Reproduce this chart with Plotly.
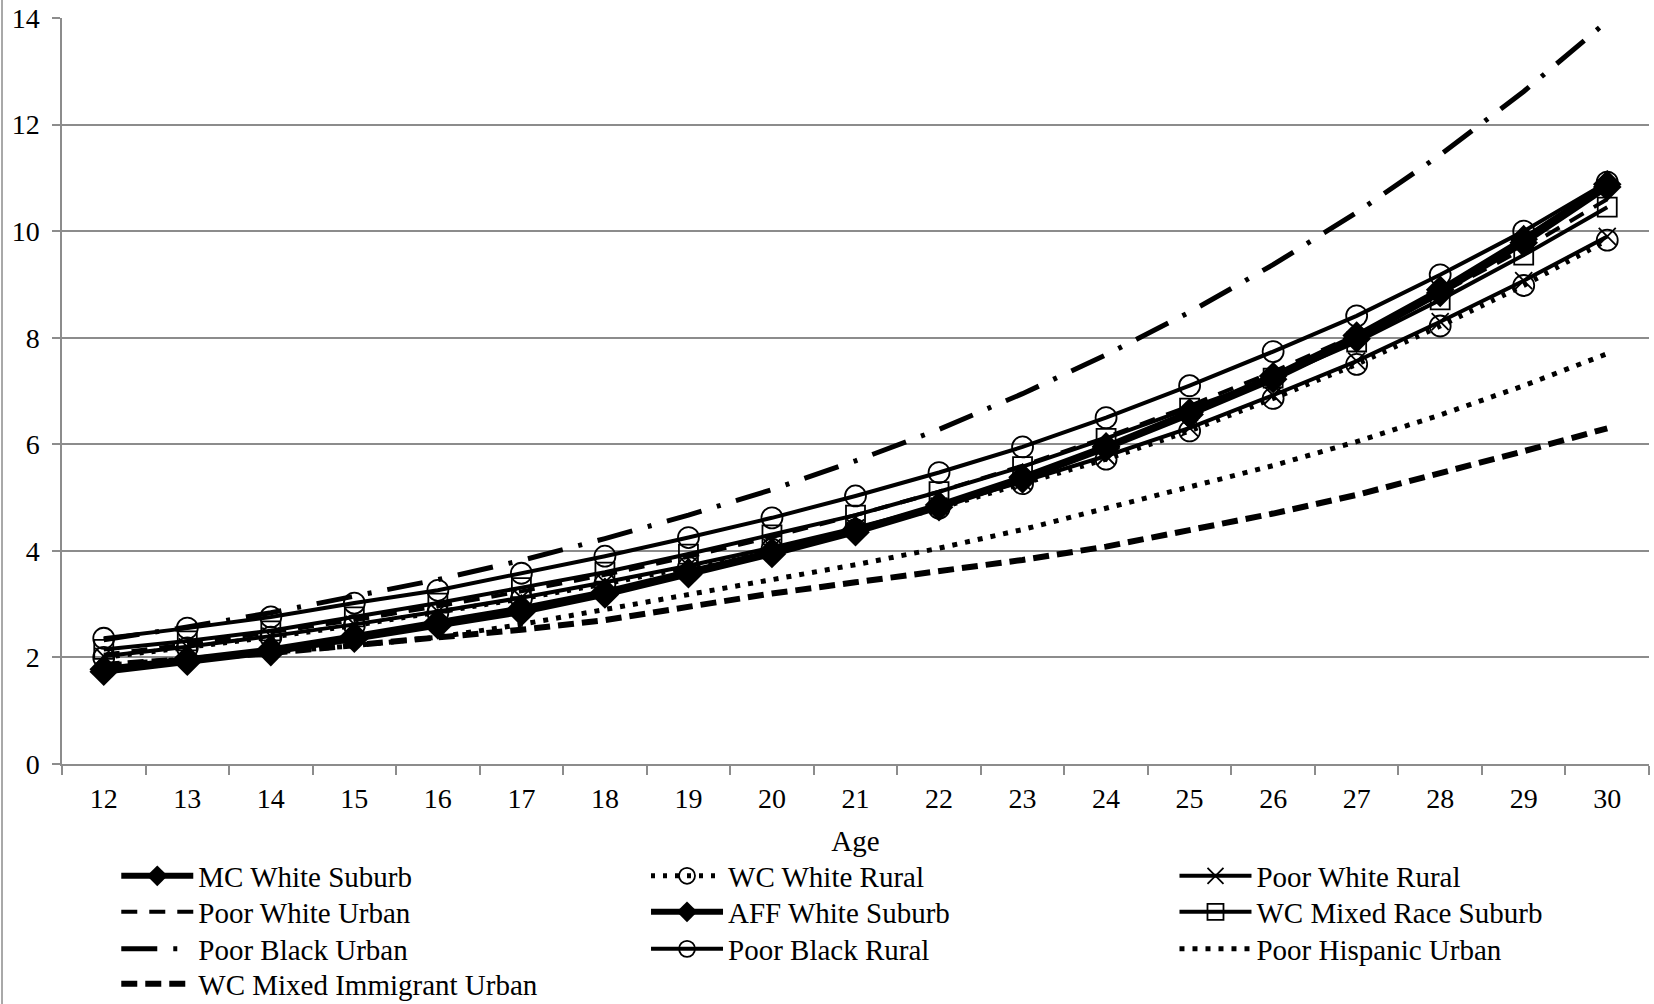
import plotly.graph_objects as go

ages = [str(a) for a in range(12, 31)]

mc_white_suburb = [1.78, 1.97, 2.15, 2.40, 2.66, 2.92, 3.23, 3.60, 3.98, 4.39, 4.86, 5.38, 5.96, 6.60, 7.28, 8.04, 8.90, 9.85, 10.88]
wc_white_rural = [2.00, 2.18, 2.38, 2.60, 2.84, 3.10, 3.38, 3.69, 4.03, 4.40, 4.80, 5.26, 5.72, 6.25, 6.86, 7.50, 8.22, 8.98, 9.83]
poor_white_rural = [2.02, 2.20, 2.40, 2.62, 2.86, 3.12, 3.41, 3.72, 4.06, 4.43, 4.84, 5.30, 5.78, 6.31, 6.92, 7.56, 8.30, 9.07, 9.90]
poor_white_urban = [2.05, 2.25, 2.47, 2.70, 2.96, 3.24, 3.55, 3.89, 4.26, 4.67, 5.11, 5.60, 6.13, 6.72, 7.36, 8.06, 8.83, 9.67, 10.60]
aff_white_suburb = [1.73, 1.92, 2.10, 2.35, 2.60, 2.85, 3.18, 3.56, 3.94, 4.35, 4.82, 5.34, 5.93, 6.56, 7.22, 7.98, 8.84, 9.78, 10.83]
wc_mixed_race_suburb = [2.15, 2.31, 2.50, 2.76, 3.02, 3.31, 3.60, 3.94, 4.30, 4.67, 5.11, 5.58, 6.11, 6.68, 7.24, 7.92, 8.71, 9.55, 10.45]
poor_black_urban = [2.33, 2.57, 2.84, 3.14, 3.46, 3.82, 4.23, 4.67, 5.15, 5.69, 6.28, 6.95, 7.68, 8.48, 9.37, 10.35, 11.43, 12.62, 13.94]
poor_black_rural = [2.36, 2.55, 2.76, 3.02, 3.26, 3.58, 3.90, 4.25, 4.62, 5.03, 5.47, 5.95, 6.50, 7.10, 7.74, 8.41, 9.18, 10.00, 10.92]
poor_hispanic_urban = [1.85, 1.98, 2.10, 2.22, 2.38, 2.62, 2.90, 3.17, 3.46, 3.74, 4.05, 4.40, 4.80, 5.18, 5.60, 6.05, 6.55, 7.10, 7.70]
wc_mixed_immigrant_urban = [1.86, 1.96, 2.08, 2.23, 2.37, 2.52, 2.70, 2.94, 3.20, 3.41, 3.61, 3.83, 4.08, 4.38, 4.70, 5.05, 5.45, 5.87, 6.30]

y_ticks = [0, 2, 4, 6, 8, 10, 12, 14]

FONT = "Liberation Serif"
BLACK = "#000000"
GRID = "#8c8c8c"

# legend slot: (column, row)
series = [
    ("MC White Suburb", mc_white_suburb, dict(width=6, dash="solid"), dict(symbol="diamond", size=22, color=BLACK), (0, 0)),
    ("WC White Rural", wc_white_rural, dict(width=5, dash="4px,8px"), dict(symbol="circle-open", size=21, color=BLACK, line=dict(width=1.8, color=BLACK)), (1, 0)),
    ("Poor White Rural", poor_white_rural, dict(width=4, dash="solid"), dict(symbol="x-thin-open", size=17, color=BLACK, line=dict(width=1.8, color=BLACK)), (2, 0)),
    ("Poor White Urban", poor_white_urban, dict(width=4, dash="16px,12px"), None, (0, 1)),
    ("AFF White Suburb", aff_white_suburb, dict(width=6, dash="solid"), dict(symbol="diamond", size=22, color=BLACK), (1, 1)),
    ("WC Mixed Race Suburb", wc_mixed_race_suburb, dict(width=4, dash="solid"), dict(symbol="square-open", size=19, color=BLACK, line=dict(width=1.8, color=BLACK)), (2, 1)),
    ("Poor Black Urban", poor_black_urban, dict(width=5, dash="36px,16px,4px,16px"), None, (0, 2)),
    ("Poor Black Rural", poor_black_rural, dict(width=4, dash="solid"), dict(symbol="circle-open", size=21, color=BLACK, line=dict(width=1.8, color=BLACK)), (1, 2)),
    ("Poor Hispanic Urban", poor_hispanic_urban, dict(width=5, dash="5px,8px"), None, (2, 2)),
    ("WC Mixed Immigrant Urban", wc_mixed_immigrant_urban, dict(width=6, dash="16px,8px"), None, (0, 3)),
]

col_x = [0.0342, 0.3680, 0.7010]
row_y = [-0.1501, -0.1984, -0.2480, -0.2949]

fig = go.Figure()
legends = {}
for i, (name, vals, line, marker, (c, r)) in enumerate(series):
    lname = "legend" if i == 0 else f"legend{i + 1}"
    kw = dict(x=ages, y=vals, name=name, line=dict(color=BLACK, **line), legend=lname)
    if marker is None:
        kw["mode"] = "lines"
    else:
        kw["mode"] = "lines+markers"
        kw["marker"] = marker
    fig.add_trace(go.Scatter(**kw))
    legends[lname] = dict(
        orientation="v", x=col_x[c], xanchor="left", y=row_y[r], yanchor="middle",
        itemwidth=72, font=dict(family=FONT, size=29, color=BLACK),
        bgcolor="rgba(0,0,0,0)", borderwidth=0,
    )

fig.update_layout(
    width=1654, height=1004,
    margin=dict(l=62, r=5, t=18, b=240, autoexpand=False),
    paper_bgcolor="white", plot_bgcolor="white",
    font=dict(family=FONT, size=28, color=BLACK),
    showlegend=True,
    xaxis=dict(
        type="category", tickson="boundaries", ticks="outside", ticklen=9,
        tickcolor=GRID, tickwidth=1.5, showline=True, linecolor=GRID, linewidth=1.5,
        showgrid=False, tickfont=dict(family=FONT, size=28, color=BLACK), ticklabelstandoff=9,
        title=dict(text="Age", font=dict(family=FONT, size=29, color=BLACK), standoff=17),
        range=[-0.5, 18.5],
    ),
    yaxis=dict(
        range=[0, 14], tickvals=y_ticks, ticks="outside", ticklen=8, tickcolor=GRID, tickwidth=1.5,
        showline=True, linecolor=GRID, linewidth=1.5, showgrid=True, gridcolor=GRID, gridwidth=1.5,
        zeroline=False, tickfont=dict(family=FONT, size=28, color=BLACK), ticklabelstandoff=7,
    ),
    shapes=[dict(type="line", xref="paper", yref="paper", x0=-0.0378, x1=-0.0378, y0=-0.33, y1=1.03,
                 line=dict(color=GRID, width=1.5))],
    **legends,
)

fig.write_html("out.html", config={"displayModeBar": False},
               post_script="document.body.style.margin='0px';")
